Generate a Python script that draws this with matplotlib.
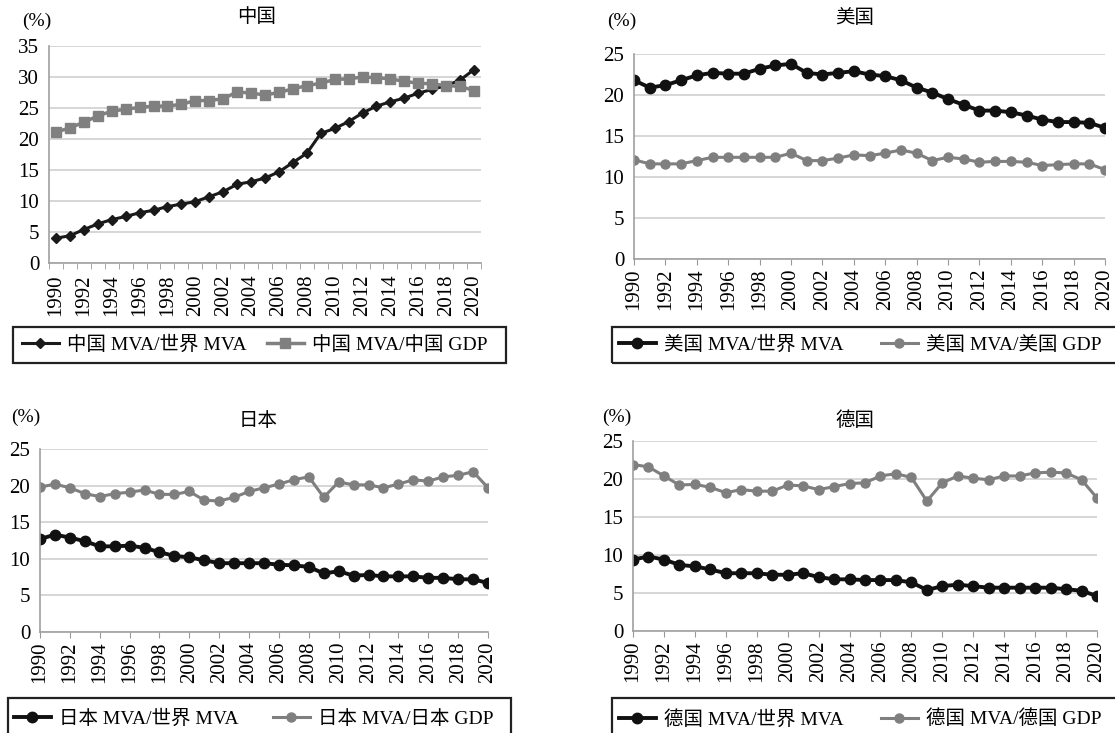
import matplotlib
matplotlib.use("Agg")
from matplotlib import pyplot as plt
from matplotlib.patches import Rectangle

plt.rcParams['font.family'] = ['Liberation Serif', 'Noto Sans CJK SC']

years = list(range(1990, 2021))

cn_world = [4.0, 4.4, 5.4, 6.3, 7.0, 7.5, 8.1, 8.5, 9.1, 9.5, 9.9, 10.7, 11.5, 12.7, 13.1, 13.7,
            14.7, 16.2, 17.7, 20.9, 21.7, 22.8, 24.2, 25.3, 26.0, 26.6, 27.4, 28.0, 28.6, 29.5, 31.2]
cn_gdp = [21.1, 21.8, 22.7, 23.7, 24.5, 24.8, 25.1, 25.3, 25.3, 25.6, 26.2, 26.2, 26.5, 27.6, 27.4, 27.1,
          27.5, 28.1, 28.6, 29.0, 29.6, 29.7, 30.0, 29.9, 29.7, 29.3, 29.0, 28.9, 28.6, 28.5, 27.8]

us_world = [21.8, 20.9, 21.2, 21.8, 22.4, 22.7, 22.6, 22.6, 23.2, 23.6, 23.8, 22.7, 22.5, 22.7, 22.9, 22.5,
            22.3, 21.8, 20.9, 20.3, 19.5, 18.8, 18.1, 18.1, 17.9, 17.5, 17.0, 16.7, 16.7, 16.6, 16.0]
us_gdp = [12.1, 11.6, 11.6, 11.6, 12.0, 12.4, 12.4, 12.4, 12.4, 12.4, 12.9, 12.0, 12.0, 12.3, 12.7, 12.6,
          12.9, 13.3, 12.9, 12.0, 12.4, 12.2, 11.8, 11.9, 11.9, 11.8, 11.4, 11.5, 11.6, 11.6, 10.9]

jp_world = [12.7, 13.3, 12.9, 12.4, 11.7, 11.7, 11.8, 11.5, 10.9, 10.4, 10.2, 9.8, 9.4, 9.4, 9.4, 9.4,
            9.2, 9.1, 8.9, 8.0, 8.3, 7.7, 7.8, 7.6, 7.6, 7.6, 7.4, 7.4, 7.2, 7.2, 6.7]
jp_gdp = [19.8, 20.2, 19.7, 18.9, 18.5, 18.9, 19.1, 19.4, 18.8, 18.8, 19.2, 18.0, 17.9, 18.4, 19.2, 19.7,
          20.2, 20.8, 21.2, 18.4, 20.5, 20.1, 20.1, 19.7, 20.2, 20.8, 20.6, 21.2, 21.4, 21.9, 19.7]

de_world = [9.4, 9.8, 9.4, 8.7, 8.5, 8.1, 7.6, 7.6, 7.6, 7.4, 7.4, 7.6, 7.1, 6.8, 6.8, 6.7,
            6.7, 6.7, 6.4, 5.4, 5.9, 6.1, 5.9, 5.7, 5.7, 5.7, 5.7, 5.7, 5.5, 5.3, 4.6]
de_gdp = [21.9, 21.6, 20.4, 19.2, 19.3, 18.9, 18.2, 18.6, 18.4, 18.4, 19.2, 19.1, 18.6, 19.0, 19.4, 19.5,
          20.4, 20.7, 20.2, 17.1, 19.5, 20.4, 20.1, 19.9, 20.4, 20.4, 20.8, 20.9, 20.8, 19.9, 17.5]

W, H = 1115, 733
fig = plt.figure(figsize=(W / 100, H / 100), dpi=100)


def px_axes(left, right, top, bottom):
    return fig.add_axes([left / W, 1 - bottom / H, (right - left) / W, (bottom - top) / H])


def setup(ax, ymax, title, tx, ty, px, py, pad_x):
    ax.set_ylim(0, ymax)
    ax.set_yticks(range(0, ymax + 1, 5))
    if pad_x:
        ax.set_xlim(1989.5, 2020.5)
        ax.set_xticks(years[::2])
        ax.set_xticks([y - 0.5 for y in years] + [2020.5], minor=True)
        ax.tick_params(axis='x', which='major', length=0, pad=8)
        ax.tick_params(axis='x', which='minor', length=4, color='#999999', direction='out')
    else:
        ax.set_xlim(1990, 2020)
        ax.set_xticks(years[::2])
        ax.tick_params(axis='x', which='major', length=4, color='#999999', direction='out', pad=3)
    ax.set_xticklabels([str(y) for y in years[::2]], rotation=90, fontsize=15)
    ax.tick_params(axis='y', length=0, pad=7, labelsize=15)
    ax.grid(axis='y', color='#cfcfcf', lw=1.2)
    ax.set_axisbelow(True)
    for s in ['top', 'right']:
        ax.spines[s].set_visible(False)
    for s in ['left', 'bottom']:
        ax.spines[s].set_color('#a0a0a0')
        ax.spines[s].set_linewidth(1.2)
    fig.text(tx / W, 1 - ty / H, title, ha='center', va='center', fontsize=14)
    fig.text(px / W, 1 - py / H, '(%)', ha='center', va='center', fontsize=14)


def add_legend(ax, bx0, bx1, by0, by1, cx0, cx1):
    # frame drawn separately so it can run past the figure edge like the reference
    fig.patches.append(Rectangle((bx0 / W, 1 - by1 / H), (bx1 - bx0) / W, (by1 - by0) / H,
                                 transform=fig.transFigure, fill=False, edgecolor='#222222',
                                 lw=1.6, figure=fig))
    yc = (by0 + by1) / 2
    ax.legend(loc='center left', bbox_to_anchor=(cx0 / W, 1 - yc / H, (cx1 - cx0) / W, 0),
              bbox_transform=fig.transFigure, mode='expand', ncol=2, fontsize=14,
              frameon=False, borderpad=0, handlelength=1.9, handletextpad=0.4,
              columnspacing=0.5, borderaxespad=0)


# 中国
ax1 = px_axes(49, 481, 46, 263)
ax1.plot(years, cn_world, color='#1a1a1a', lw=2.2, marker='D', ms=5, label='中国 MVA/世界 MVA')
ax1.plot(years, cn_gdp, color='#808080', lw=2.5, marker='s', ms=7.5, label='中国 MVA/中国 GDP')
setup(ax1, 35, '中国', 257, 17, 37, 21, True)
add_legend(ax1, 13, 506, 327, 363, 22, 487)

# 美国
ax2 = px_axes(634, 1105, 54, 259)
ax2.plot(years, us_world, color='#111111', lw=2.8, marker='o', ms=7.5, label='美国 MVA/世界 MVA')
ax2.plot(years, us_gdp, color='#7f7f7f', lw=2.2, marker='o', ms=6.5, label='美国 MVA/美国 GDP')
setup(ax2, 25, '美国', 855, 18, 622, 21, False)
add_legend(ax2, 612, 1130, 327, 363, 619, 1101)

# 日本
ax3 = px_axes(40, 488, 449, 632)
ax3.plot(years, jp_world, color='#111111', lw=2.8, marker='o', ms=7.5, label='日本 MVA/世界 MVA')
ax3.plot(years, jp_gdp, color='#7f7f7f', lw=2.2, marker='o', ms=6.5, label='日本 MVA/日本 GDP')
setup(ax3, 25, '日本', 258, 421, 26, 417, False)
add_legend(ax3, 8, 511, 698, 740, 14, 493)

# 德国
ax4 = px_axes(633, 1097, 441, 631)
ax4.plot(years, de_world, color='#111111', lw=2.8, marker='o', ms=7.5, label='德国 MVA/世界 MVA')
ax4.plot(years, de_gdp, color='#7f7f7f', lw=2.2, marker='o', ms=6.5, label='德国 MVA/德国 GDP')
setup(ax4, 25, '德国', 855, 421, 617, 417, False)
add_legend(ax4, 612, 1130, 698, 740, 619, 1101)

fig.savefig('out.png', dpi=100)
